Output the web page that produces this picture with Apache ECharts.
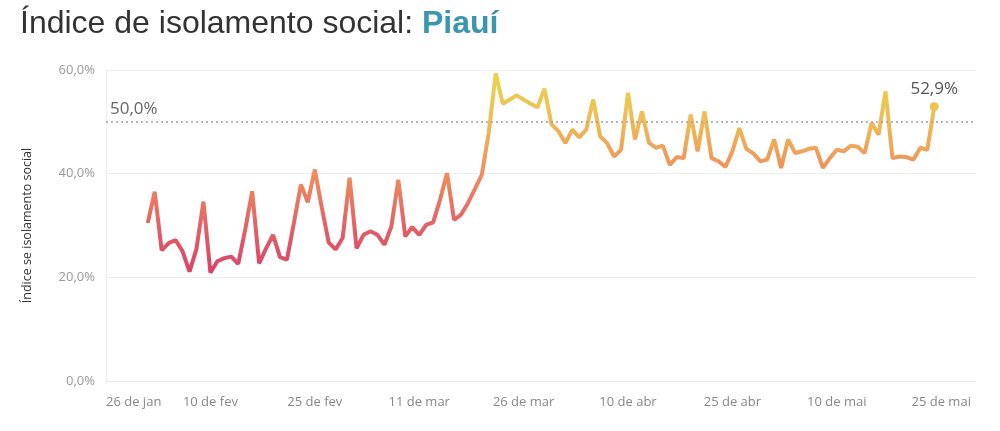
<!DOCTYPE html>
<html>
<head>
<meta charset="utf-8">
<script src="https://cdn.jsdelivr.net/npm/echarts@6/dist/echarts.min.js"></script>
<style>
  html, body { margin: 0; padding: 0; background: #fff; }
  #chart { width: 1000px; height: 431px; }
</style>
</head>
<body>
<div id="chart"></div>
<script>
// eixo começa em 26 de jan, dados de 1 de fev a 24 de mai (2020)
const inicioEixo = '2020-01-26';
const inicioDados = '2020-02-01';
const meses = ['jan', 'fev', 'mar', 'abr', 'mai', 'jun'];
const ticksY = [0, 20, 40, 60];
const referencia = 50;

// índice de isolamento social diário (%)
const isolamento = [
    30.5, 36.5, 25.2, 26.6, 27.2, 25.0, 21.1, 25.5, 34.6, 20.9,
    23.1, 23.7, 24.0, 22.6, 29.2, 36.6, 22.7, 25.6, 28.2, 23.9,
    23.4, 30.5, 37.9, 34.5, 40.8, 33.5, 26.7, 25.4, 27.6, 39.2,
    25.6, 28.2, 28.9, 28.2, 26.3, 29.8, 38.8, 27.9, 29.7, 28.2,
    30.1, 30.6, 35.0, 40.1, 31.1, 32.1, 34.3, 37.0, 39.8, 48.0,
    59.4, 53.5, 54.3, 55.1, 54.3, 53.5, 52.8, 56.4, 49.5, 48.2,
    45.9, 48.5, 47.0, 48.5, 54.3, 47.2, 45.9, 43.3, 44.6, 55.6,
    46.6, 52.0, 46.0, 45.0, 45.4, 41.7, 43.2, 43.0, 51.4, 44.3,
    52.0, 43.0, 42.4, 41.3, 44.3, 48.8, 44.8, 43.9, 42.4, 42.7,
    46.6, 41.1, 46.6, 44.0, 44.3, 44.8, 45.0, 41.1, 43.0, 44.6,
    44.3, 45.4, 45.2, 44.0, 49.8, 47.5, 55.9, 43.0, 43.3, 43.2,
    42.7, 45.0, 44.6, 52.9
];

const DIA = 86400000;
const t0 = Date.parse(inicioEixo + 'T00:00:00Z');
const offset = Math.round((Date.parse(inicioDados + 'T00:00:00Z') - t0) / DIA);

function rotuloData(d) {
    const dt = new Date(t0 + d * DIA);
    return dt.getUTCDate() + ' de ' + meses[dt.getUTCMonth()];
}
function pct(v) {
    return v.toFixed(1).replace('.', ',') + '%';
}

const pontos = isolamento.map(function (v, i) {
    if (i === isolamento.length - 1) {
        return {
            value: [i + offset, v],
            symbol: 'circle',
            symbolSize: 9,
            label: {
                show: true,
                position: 'top',
                distance: 5,
                formatter: pct(v),
                color: '#555',
                fontSize: 17,
                fontFamily: 'Open Sans'
            }
        };
    }
    return [i + offset, v];
});

const chart = echarts.init(document.getElementById('chart'));

chart.setOption({
    backgroundColor: '#fff',
    animation: false,
    title: {
        left: 15,
        top: 3,
        text: '{a|Índice de isolamento social: }{b|Piauí}',
        textStyle: {
            rich: {
                a: { fontFamily: 'Liberation Sans', fontSize: 32, color: '#333', fontWeight: 'normal' },
                b: { fontFamily: 'Liberation Sans', fontSize: 32, color: '#3b97ae', fontWeight: 'bold' }
            }
        }
    },
    grid: { left: 106, right: 24, top: 70, bottom: 50 },
    xAxis: {
        type: 'value',
        min: 0,
        max: 125,
        interval: 15,
        axisLine: { show: true, lineStyle: { color: '#e6e6e6' } },
        axisTick: { show: false },
        splitLine: { show: false },
        axisLabel: {
            color: '#888',
            fontFamily: 'Open Sans',
            fontSize: 13,
            margin: 15,
            alignMinLabel: 'left',
            showMaxLabel: false,
            formatter: rotuloData
        }
    },
    yAxis: {
        type: 'value',
        min: ticksY[0],
        max: ticksY[ticksY.length - 1],
        interval: ticksY[1] - ticksY[0],
        name: 'Índice se isolamento social',
        nameLocation: 'middle',
        nameRotate: 90,
        nameGap: 72,
        nameTextStyle: { color: '#333', fontFamily: 'Open Sans', fontSize: 12.5 },
        axisLine: { show: true, lineStyle: { color: '#eeeeee' } },
        axisTick: { show: false },
        splitLine: { lineStyle: { color: '#eeeeee' } },
        axisLabel: {
            color: '#999',
            fontFamily: 'Open Sans',
            fontSize: 13,
            margin: 11,
            formatter: pct
        }
    },
    visualMap: {
        show: false,
        type: 'continuous',
        dimension: 1,
        min: 20,
        max: 60,
        inRange: {
            color: ['#d8406a', '#e36265', '#ef8d5c', '#efbb55', '#e8d64d']
        }
    },
    series: [{
        type: 'line',
        data: pontos,
        showSymbol: true,
        symbol: 'none',
        lineStyle: { width: 4 },
        markLine: {
            silent: true,
            symbol: ['none', 'none'],
            lineStyle: { color: '#a0a0a0', type: [2, 3], width: 1.5 },
            label: {
                position: 'insideStartTop',
                formatter: pct(referencia),
                color: '#666',
                fontFamily: 'Open Sans',
                fontSize: 17,
                distance: [4, 4]
            },
            data: [{ yAxis: referencia }]
        }
    }]
});
</script>
</body>
</html>
